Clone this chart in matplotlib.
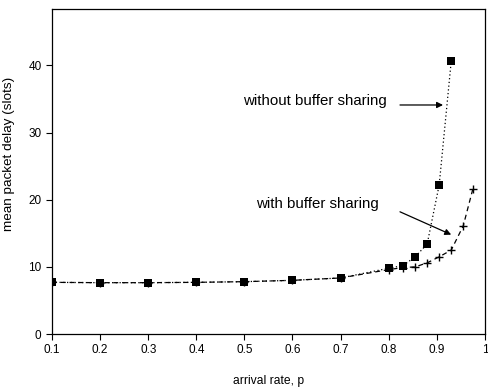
import matplotlib
matplotlib.use("Agg")
import matplotlib.pyplot as plt

plt.rcParams["font.family"] = ["Liberation Sans", "DejaVu Sans"]

# Data
p_without = [0.1, 0.2, 0.3, 0.4, 0.5, 0.6, 0.7, 0.8, 0.83, 0.855, 0.88, 0.905, 0.93]
d_without = [7.7, 7.65, 7.65, 7.7, 7.8, 8.0, 8.35, 9.8, 10.2, 11.5, 13.4, 22.2, 40.6]

p_with = [0.1, 0.2, 0.3, 0.4, 0.5, 0.6, 0.7, 0.8, 0.83, 0.855, 0.88, 0.905, 0.93, 0.955, 0.975]
d_with = [7.7, 7.65, 7.65, 7.7, 7.8, 8.0, 8.35, 9.6, 9.9, 10.0, 10.6, 11.5, 12.5, 16.1, 21.6]

x_ticks = [0.1, 0.2, 0.3, 0.4, 0.5, 0.6, 0.7, 0.8, 0.9, 1.0]
x_labels = ["0.1", "0.2", "0.3", "0.4", "0.5", "0.6", "0.7", "0.8", "0.9", "1"]
y_ticks = [0, 10, 20, 30, 40]

fig = plt.figure(figsize=(4.88, 3.88), dpi=100)
ax = fig.add_axes([0.1066, 0.139, 0.887, 0.838])

ax.plot(p_with, d_with, color="black", linestyle=(0, (4, 3)), linewidth=0.9,
        marker="+", markersize=6, markeredgewidth=1.0)
ax.plot(p_without, d_without, color="black", linestyle=(0, (1, 2)), linewidth=0.9,
        marker="s", markersize=6, markeredgewidth=0)

# labels and pointer arrows
arrow = dict(arrowstyle="-|>", color="black", lw=0.9, shrinkA=0, shrinkB=0,
             mutation_scale=9)
ax.text(0.497, 34.7, "without buffer sharing", fontsize=10.8, va="center", ha="left")
ax.annotate("", xy=(0.913, 34.1), xytext=(0.8235, 34.1), arrowprops=arrow)
ax.text(0.525, 19.3, "with buffer sharing", fontsize=10.8, va="center", ha="left")
ax.annotate("", xy=(0.93, 14.8), xytext=(0.8235, 18.2), arrowprops=arrow)

ax.set_xlim(0.1, 1.0)
ax.set_ylim(0, 48.4)
ax.set_xticks(x_ticks)
ax.set_xticklabels(x_labels)
ax.set_yticks(y_ticks)
ax.tick_params(direction="out", length=4, width=0.8, labelsize=8.5)
for s in ax.spines.values():
    s.set_linewidth(0.9)

ax.set_xlabel("arrival rate, p", fontsize=8.7, labelpad=13)
ax.set_ylabel("mean packet delay (slots)", fontsize=9.7)
ax.yaxis.set_label_coords(-0.085, 0.555)

fig.savefig("out.png", dpi=100)
